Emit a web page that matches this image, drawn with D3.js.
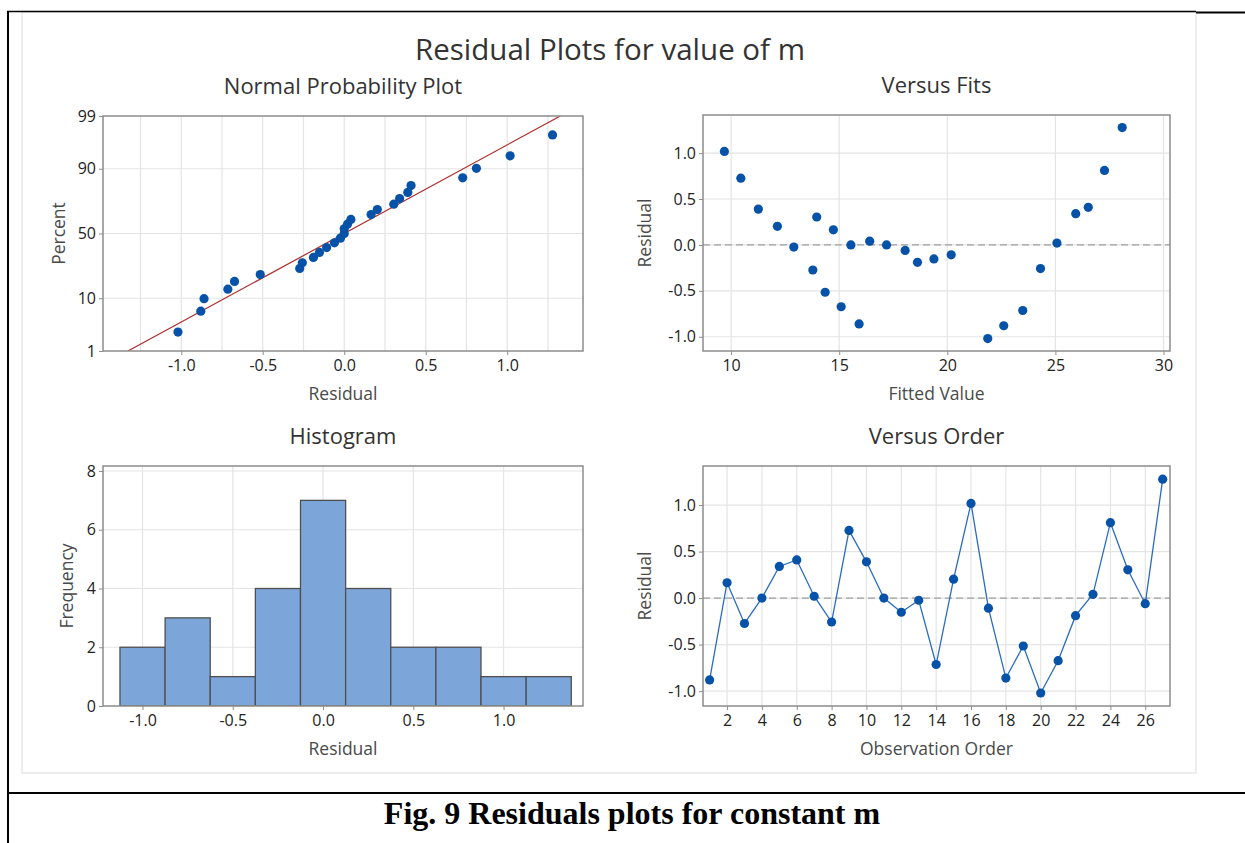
<!DOCTYPE html>
<html>
<head>
<meta charset="utf-8">
<script src="https://cdn.jsdelivr.net/npm/d3@7"></script>
<style>
  body { margin: 0; background: #fff; }
  text { font-family: "Open Sans", "Noto Sans", sans-serif; }
</style>
</head>
<body>
<svg id="chart"></svg>
<script>
// residuals in observation order, and the fitted value of each observation
const residuals = [-0.88, 0.165, -0.273, 0.0, 0.34, 0.41, 0.02, -0.257, 0.727, 0.39,
  0.0, -0.152, -0.023, -0.714, 0.203, 1.018, -0.108, -0.86, -0.515, -1.02,
  -0.673, -0.189, 0.041, 0.811, 0.304, -0.06, 1.278];
const fitted = [22.61, 14.73, 13.78, 15.54, 25.94, 26.52, 25.07, 24.31, 10.45, 11.26,
  17.19, 19.38, 12.90, 23.49, 12.14, 9.69, 20.18, 15.92, 14.35, 21.87,
  15.09, 18.62, 16.41, 27.27, 13.96, 18.05, 28.09];

const percentTicks = [1, 10, 50, 90, 99];
const residTicks = [-1.0, -0.5, 0.0, 0.5, 1.0];
const residGrid = [-1.25, -1.0, -0.75, -0.5, -0.25, 0, 0.25, 0.5, 0.75, 1.0, 1.25];
const fitTicks = [10, 15, 20, 25, 30];
const orderTicks = [2, 4, 6, 8, 10, 12, 14, 16, 18, 20, 22, 24, 26];
const freqTicks = [0, 2, 4, 6, 8];
const binEdges = [-1.125, -0.875, -0.625, -0.375, -0.125, 0.125, 0.375, 0.625, 0.875, 1.125, 1.375];

const W = 1245, H = 843;
const svg = d3.select("#chart").attr("width", W).attr("height", H);

const blue = "#0652a8";
const gridColor = "#e4e4e4";
const frameColor = "#8c8c8c";
const fmt1 = d => d.toFixed(1);

// inverse normal cdf (Acklam)
function qnorm(p) {
  const a = [-3.969683028665376e+01, 2.209460984245205e+02, -2.759285104469687e+02, 1.383577518672690e+02, -3.066479806614716e+01, 2.506628277459239e+00];
  const b = [-5.447609879822406e+01, 1.615858368580409e+02, -1.556989798598866e+02, 6.680131188771972e+01, -1.328068155833025e+01];
  const c = [-7.784894002430293e-03, -3.223964580411365e-01, -2.400758277161838e+00, -2.549732539343734e+00, 4.374664141464968e+00, 2.938163982698783e+00];
  const d = [7.784695709041462e-03, 3.224671290700398e-01, 2.445134137142996e+00, 3.754408661907416e+00];
  const plow = 0.02425;
  let q, r;
  if (p < plow) {
    q = Math.sqrt(-2 * Math.log(p));
    return (((((c[0]*q+c[1])*q+c[2])*q+c[3])*q+c[4])*q+c[5]) / ((((d[0]*q+d[1])*q+d[2])*q+d[3])*q+1);
  } else if (p <= 1 - plow) {
    q = p - 0.5; r = q * q;
    return (((((a[0]*r+a[1])*r+a[2])*r+a[3])*r+a[4])*r+a[5])*q / (((((b[0]*r+b[1])*r+b[2])*r+b[3])*r+b[4])*r+1);
  }
  q = Math.sqrt(-2 * Math.log(1 - p));
  return -(((((c[0]*q+c[1])*q+c[2])*q+c[3])*q+c[4])*q+c[5]) / ((((d[0]*q+d[1])*q+d[2])*q+d[3])*q+1);
}

// page frame (document table lines)
svg.append("rect").attr("x", 22).attr("y", 12).attr("width", 1174).attr("height", 761)
  .attr("fill", "none").attr("stroke", "#dcdcdc");
svg.append("line").attr("x1", 7).attr("x2", 1196).attr("y1", 11.5).attr("y2", 11.5)
  .attr("stroke", "#000").attr("stroke-width", 1.5);
svg.append("line").attr("x1", 1196).attr("x2", W).attr("y1", 12.5).attr("y2", 12.5)
  .attr("stroke", "#000").attr("stroke-width", 2);
svg.append("line").attr("x1", 8).attr("x2", 8).attr("y1", 11).attr("y2", H)
  .attr("stroke", "#000").attr("stroke-width", 2);
svg.append("line").attr("x1", 7).attr("x2", W).attr("y1", 793).attr("y2", 793)
  .attr("stroke", "#000").attr("stroke-width", 2);

svg.append("text").attr("x", 632).attr("y", 824).attr("text-anchor", "middle")
  .style("font-family", "'Liberation Serif', 'Times New Roman', serif")
  .style("font-weight", "bold").style("font-size", "32px").attr("fill", "#000")
  .text("Fig. 9 Residuals plots for constant m");

svg.append("text").attr("x", 610).attr("y", 60).attr("text-anchor", "middle")
  .style("font-size", "29.5px").attr("fill", "#333")
  .text("Residual Plots for value of m");

// generic panel
function panel(box, xScale, yScale, opts) {
  const g = svg.append("g");
  const id = "clip" + Math.round(box.x0) + Math.round(box.y0);
  g.append("clipPath").attr("id", id).append("rect")
    .attr("x", box.x0).attr("y", box.y0).attr("width", box.x1 - box.x0).attr("height", box.y1 - box.y0);

  // grid
  g.append("g").selectAll("line").data(opts.xGrid).join("line")
    .attr("x1", d => xScale(d)).attr("x2", d => xScale(d))
    .attr("y1", box.y0).attr("y2", box.y1)
    .attr("stroke", gridColor).attr("stroke-width", 1.2);
  g.append("g").selectAll("line").data(opts.yGrid).join("line")
    .attr("y1", d => yScale(d)).attr("y2", d => yScale(d))
    .attr("x1", box.x0).attr("x2", box.x1)
    .attr("stroke", gridColor).attr("stroke-width", 1.2);

  const xAxis = g.append("g").attr("transform", `translate(0,${box.y1})`)
    .call(d3.axisBottom(xScale).tickValues(opts.xTicks).tickFormat(opts.xFormat).tickSize(4).tickPadding(5));
  const yAxis = g.append("g").attr("transform", `translate(${box.x0},0)`)
    .call(d3.axisLeft(yScale).tickValues(opts.yTicks).tickFormat(opts.yFormat).tickSize(4).tickPadding(3));
  [xAxis, yAxis].forEach(ax => {
    ax.select(".domain").remove();
    ax.selectAll(".tick line").attr("stroke", frameColor);
    ax.selectAll(".tick text").style("font-size", "16px").style("font-family", "'Open Sans', 'Noto Sans', sans-serif").attr("fill", "#222");
  });

  const plot = g.append("g").attr("clip-path", `url(#${id})`);

  // frame
  g.append("rect").attr("x", box.x0).attr("y", box.y0)
    .attr("width", box.x1 - box.x0).attr("height", box.y1 - box.y0)
    .attr("fill", "none").attr("stroke", frameColor).attr("stroke-width", 1.5);

  const cx = (box.x0 + box.x1) / 2;
  g.append("text").attr("x", cx).attr("y", box.y0 - 22).attr("text-anchor", "middle")
    .style("font-size", "22px").attr("fill", "#333").text(opts.title);
  g.append("text").attr("x", cx).attr("y", box.y1 + 49).attr("text-anchor", "middle")
    .style("font-size", "17.5px").attr("fill", "#4a4a4a").text(opts.xLabel);
  g.append("text").attr("transform", `translate(${opts.yLabelX},${(box.y0 + box.y1) / 2}) rotate(-90)`)
    .attr("text-anchor", "middle")
    .style("font-size", "17.5px").attr("fill", "#4a4a4a").text(opts.yLabel);
  return { g, plot };
}

// Normal probability plot
{
  const box = { x0: 103, x1: 583, y0: 116, y1: 351 };
  const x = d3.scaleLinear().domain([-1.48, 1.465]).range([box.x0, box.x1]);
  const y = d3.scaleLinear().domain([qnorm(0.01), qnorm(0.99)]).range([box.y1, box.y0]);
  // percent axis: normal-quantile scale wrapped so the d3 axis can use it
  const yScale = Object.assign(v => y(qnorm(v / 100)), {
    copy: () => yScale, domain: () => [1, 99], range: () => [box.y1, box.y0]
  });
  const { plot } = panel(box, x, yScale, {
    xGrid: residGrid, yGrid: [10, 50, 90], xTicks: residTicks, yTicks: percentTicks,
    xFormat: fmt1, yFormat: d => String(d),
    title: "Normal Probability Plot", xLabel: "Residual", yLabel: "Percent", yLabelX: 65
  });
  const n = residuals.length;
  const sorted = residuals.slice().sort(d3.ascending);
  const mean = d3.mean(residuals), sd = d3.deviation(residuals);
  const zr = y.domain();
  plot.append("line")
    .attr("x1", x(mean + sd * zr[0])).attr("y1", y(zr[0]))
    .attr("x2", x(mean + sd * zr[1])).attr("y2", y(zr[1]))
    .attr("stroke", "#b22a2a").attr("stroke-width", 1.2);
  plot.selectAll("circle").data(sorted).join("circle")
    .attr("cx", d => x(d))
    .attr("cy", (d, i) => y(qnorm((i + 1 - 0.3) / (n + 0.4))))
    .attr("r", 4.6).attr("fill", blue);
}

// Versus fits
{
  const box = { x0: 703, x1: 1170, y0: 115, y1: 351 };
  const x = d3.scaleLinear().domain([8.7, 30.3]).range([box.x0, box.x1]);
  const y = d3.scaleLinear().domain([-1.155, 1.415]).range([box.y1, box.y0]);
  const { plot } = panel(box, x, y, {
    xGrid: fitTicks, yGrid: residTicks, xTicks: fitTicks, yTicks: residTicks,
    xFormat: d => String(d), yFormat: fmt1,
    title: "Versus Fits", xLabel: "Fitted Value", yLabel: "Residual", yLabelX: 651
  });
  plot.append("line").attr("x1", box.x0).attr("x2", box.x1).attr("y1", y(0)).attr("y2", y(0))
    .attr("stroke", "#a0a0a0").attr("stroke-width", 1.3).attr("stroke-dasharray", "7,4");
  plot.selectAll("circle").data(residuals).join("circle")
    .attr("cx", (d, i) => x(fitted[i])).attr("cy", d => y(d))
    .attr("r", 4.6).attr("fill", blue);
}

// Histogram
{
  const box = { x0: 103, x1: 583, y0: 466, y1: 706 };
  const x = d3.scaleLinear().domain([-1.219, 1.44]).range([box.x0, box.x1]);
  const y = d3.scaleLinear().domain([0, 8.17]).range([box.y1, box.y0]);
  const { plot } = panel(box, x, y, {
    xGrid: residTicks, yGrid: [2, 4, 6, 8], xTicks: residTicks, yTicks: freqTicks,
    xFormat: fmt1, yFormat: d => String(d),
    title: "Histogram", xLabel: "Residual", yLabel: "Frequency", yLabelX: 73
  });
  const bins = d3.bin().domain([binEdges[0], binEdges[binEdges.length - 1]])
    .thresholds(binEdges.slice(1, -1))(residuals);
  plot.selectAll("rect").data(bins).join("rect")
    .attr("x", d => x(d.x0)).attr("width", d => x(d.x1) - x(d.x0))
    .attr("y", d => y(d.length)).attr("height", d => y(0) - y(d.length))
    .attr("fill", "#7ca6d9").attr("stroke", "#4f4f4f").attr("stroke-width", 1.3);
}

// Versus order
{
  const box = { x0: 703, x1: 1170, y0: 466, y1: 706 };
  const x = d3.scaleLinear().domain([0.62, 27.42]).range([box.x0, box.x1]);
  const y = d3.scaleLinear().domain([-1.16, 1.42]).range([box.y1, box.y0]);
  const { plot } = panel(box, x, y, {
    xGrid: orderTicks, yGrid: residTicks, xTicks: orderTicks, yTicks: residTicks,
    xFormat: d => String(d), yFormat: fmt1,
    title: "Versus Order", xLabel: "Observation Order", yLabel: "Residual", yLabelX: 651
  });
  plot.append("line").attr("x1", box.x0).attr("x2", box.x1).attr("y1", y(0)).attr("y2", y(0))
    .attr("stroke", "#a0a0a0").attr("stroke-width", 1.3).attr("stroke-dasharray", "7,4");
  const line = d3.line().x((d, i) => x(i + 1)).y(d => y(d));
  plot.append("path").datum(residuals).attr("d", line)
    .attr("fill", "none").attr("stroke", "#2a6cc2").attr("stroke-width", 1.3);
  plot.selectAll("circle").data(residuals).join("circle")
    .attr("cx", (d, i) => x(i + 1)).attr("cy", d => y(d))
    .attr("r", 4.6).attr("fill", blue);
}
</script>
</body>
</html>
